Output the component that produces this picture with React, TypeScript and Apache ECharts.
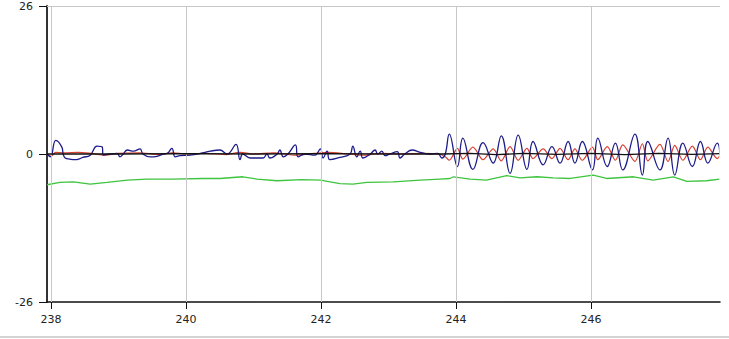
import React, { useEffect, useRef } from "react";
import * as echarts from "echarts";

const xTicks = [238, 240, 242, 244, 246];
const yTicks = [-26, 0, 26];
const yMin = -26;
const yMax = 26;

const blueSeries: [number, number][] = [
  [237.94, 0], [237.99, -0.5], [238.07, 2.4], [238.16, 1.2], [238.18, 0], [238.21, -0.7], [238.28, -0.9],
  [238.36, -1.0], [238.43, -0.8], [238.47, -0.6], [238.58, -0.2], [238.68, 1.4], [238.76, 1.2], [238.77, -0.2],
  [238.87, 0], [238.98, 0.1], [239.02, -0.5], [239.07, 0], [239.13, 0.7], [239.22, 0.5], [239.32, 0.9],
  [239.36, 0], [239.47, -0.5], [239.57, -0.4], [239.66, 0], [239.72, 0.1], [239.79, 1.0], [239.84, -0.5],
  [239.91, -0.3], [240.06, -0.2], [240.21, 0.1], [240.36, 0.5], [240.5, 0.7], [240.61, 0], [240.74, 1.7],
  [240.8, -1.0], [240.84, 0], [240.95, -0.7], [241.14, -0.7], [241.2, 0], [241.24, -0.7], [241.35, 0],
  [241.39, 0.7], [241.44, -0.5], [241.51, 0], [241.62, 1.6], [241.66, -0.5], [241.76, 0], [241.91, -0.2],
  [241.99, 0.9], [242.03, -0.7], [242.09, 0.5], [242.13, -1.0], [242.28, -0.6], [242.43, 0], [242.47, 1.4],
  [242.53, -0.5], [242.58, 0.5], [242.62, -0.7], [242.73, 0], [242.8, 0.7], [242.84, 0], [242.9, 0.5],
  [242.95, -0.3], [243.02, 0], [243.13, 0.4], [243.17, -0.7], [243.24, 0], [243.35, 0.7], [243.47, 0.3],
  [243.62, 0], [243.73, 0.1], [243.79, -0.7], [243.84, 0], [243.9, 3.5], [244.02, -2.2], [244.1, 2.8],
  [244.25, -2.7], [244.4, 2.0], [244.55, -1.6], [244.67, 3.2], [244.8, -3.4], [244.92, 3.3], [245.05, -2.7],
  [245.14, 2.2], [245.29, -1.9], [245.42, 1.3], [245.54, -1.6], [245.66, 2.2], [245.76, -1.6], [245.87, 2.2],
  [246.02, -2.8], [246.1, 2.8], [246.24, -2.2], [246.36, 1.9], [246.47, -2.8], [246.65, 3.5], [246.76, -3.7],
  [246.84, 2.2], [247.02, -2.8], [247.14, 2.8], [247.24, -3.7], [247.36, 1.9], [247.5, -2.2], [247.62, 2.2],
  [247.73, -1.6], [247.87, 1.9], [247.91, -0.2],
];

const redSeries: [number, number][] = [
  [237.94, 0], [238.0, -0.4], [238.07, 0.3], [238.2, 0.2], [238.4, 0.3], [238.6, 0.1], [238.8, -0.2],
  [239.0, 0.1], [239.3, 0.2], [239.6, -0.1], [239.8, 0.2], [240.0, 0], [240.3, 0.1], [240.6, -0.1],
  [240.8, 0.3], [241.0, 0], [241.3, 0.2], [241.6, -0.2], [241.9, 0.1], [242.1, 0.3], [242.4, 0],
  [242.6, -0.2], [242.9, 0.1], [243.2, 0], [243.5, 0.1], [243.75, 0],
  [243.84, -0.5], [243.9, -1.1], [244.02, 1.0], [244.1, -0.9], [244.25, 1.2], [244.4, -1.0], [244.55, 0.9],
  [244.67, -1.2], [244.8, 1.3], [244.92, -1.1], [245.05, 1.0], [245.14, -0.8], [245.29, 0.9], [245.42, -0.8],
  [245.54, 1.0], [245.66, -1.0], [245.76, 0.9], [245.87, -1.1], [246.02, 1.2], [246.1, -1.0], [246.24, 1.3],
  [246.36, -1.1], [246.47, 1.6], [246.65, -1.3], [246.76, 1.8], [246.84, -1.2], [247.02, 1.7], [247.14, -1.3],
  [247.24, 1.5], [247.36, -1.1], [247.5, 1.4], [247.62, -1.0], [247.73, 1.2], [247.87, -0.8], [247.91, -0.3],
];

const greenSeries: [number, number][] = [
  [237.94, -5.4], [238.13, -5.0], [238.33, -4.9], [238.58, -5.3], [238.83, -5.0], [239.13, -4.6],
  [239.42, -4.4], [239.79, -4.4], [240.25, -4.3], [240.5, -4.3], [240.84, -4.0], [241.05, -4.4],
  [241.35, -4.7], [241.71, -4.5], [241.99, -4.6], [242.28, -5.2], [242.47, -5.3], [242.68, -5.0],
  [243.07, -4.9], [243.47, -4.6], [243.76, -4.4], [243.91, -4.3], [243.96, -4.0], [244.21, -4.4],
  [244.45, -4.6], [244.75, -3.8], [244.95, -4.2], [245.2, -4.0], [245.44, -4.2], [245.69, -4.3],
  [246.03, -3.7], [246.23, -4.3], [246.63, -4.0], [246.92, -4.6], [247.22, -4.0], [247.42, -4.8],
  [247.71, -4.7], [247.91, -4.4],
];

const blackSeries: [number, number][] = [
  [237.94, 0], [239.0, 0], [240.0, 0.05], [241.0, 0], [242.0, 0.05], [243.0, 0], [243.8, 0],
  [244.2, 0.1], [244.6, -0.1], [245.0, 0.1], [245.5, -0.05], [246.0, 0.1], [246.5, -0.1],
  [247.0, 0.1], [247.5, -0.05], [247.91, 0.05],
];

const FONT = "DejaVu Sans";

export default function App() {
  const ref = useRef<HTMLDivElement>(null);
  useEffect(() => {
    const chart = echarts.init(ref.current!, null, { renderer: "svg" });
    chart.setOption({
      animation: false,
      backgroundColor: "#ffffff",
      grid: { show: false, borderWidth: 0, left: 47, right: 9, top: 6, bottom: 37 },
      xAxis: {
        type: "value",
        min: 237.94,
        max: 247.91,
        axisLine: { show: true, onZero: false, lineStyle: { color: "#111", width: 1.5 } },
        axisTick: { show: true, length: 7, customValues: xTicks, lineStyle: { color: "#111", width: 1 } },
        axisLabel: {
          customValues: xTicks,
          margin: 12,
          fontSize: 11,
          fontWeight: "normal",
          fontFamily: FONT,
          color: "#222",
        },
        splitLine: { show: false },
      },
      yAxis: {
        type: "value",
        min: yMin,
        max: yMax,
        interval: 26,
        axisLine: { show: true, lineStyle: { color: "#333", width: 2 } },
        axisTick: { show: true, length: 8, customValues: yTicks, lineStyle: { color: "#111", width: 1 } },
        axisLabel: {
          customValues: yTicks,
          margin: 14,
          fontSize: 11,
          fontWeight: "normal",
          fontFamily: FONT,
          color: "#222",
        },
        splitLine: { show: false },
      },
      graphic: [
        {
          type: "rect",
          z: 100,
          shape: { x: 719.3, y: 7, width: 6, height: 294 },
          style: { fill: "#ffffff" },
        },
        {
          type: "rect",
          shape: { x: 0, y: 336, width: 729, height: 2 },
          style: { fill: "#d4d4d4" },
        },
      ],
      series: [
        {
          type: "line",
          data: [],
          silent: true,
          z: 1,
          markLine: {
            silent: true,
            symbol: "none",
            animation: false,
            label: { show: false },
            lineStyle: { color: "#c8c8c8", width: 1, type: "solid" },
            emphasis: { disabled: true },
            data: [...xTicks.map((v) => ({ xAxis: v })), { yAxis: yMax }],
          },
        },
        {
          type: "line",
          data: greenSeries,
          showSymbol: false,
          lineStyle: { color: "#3ec43e", width: 1.3 },
          z: 2,
        },
        {
          type: "line",
          data: redSeries,
          showSymbol: false,
          smooth: 0.3,
          lineStyle: { color: "#d8402f", width: 1.2 },
          z: 3,
        },
        {
          type: "line",
          data: blueSeries,
          showSymbol: false,
          smooth: 0.45,
          lineStyle: { color: "#1c1c8a", width: 1.3 },
          z: 4,
        },
        {
          type: "line",
          data: blackSeries,
          showSymbol: false,
          lineStyle: { color: "#111", width: 1.3 },
          z: 5,
        },
      ],
    });
    return () => chart.dispose();
  }, []);
  return (
    <div
      ref={ref}
      style={{ position: "fixed", left: 0, top: 0, width: 729, height: 339, background: "#fff" }}
    />
  );
}
